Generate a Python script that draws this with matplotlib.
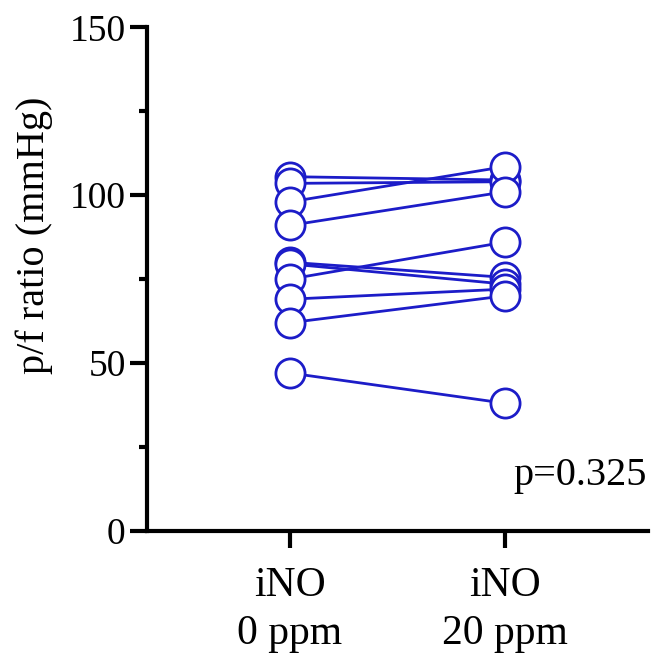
import matplotlib
matplotlib.use("Agg")
import matplotlib.pyplot as plt
from matplotlib.ticker import MultipleLocator

groups = ["iNO\n0 ppm", "iNO\n20 ppm"]
ino_0 = [105.5, 103.5, 98, 91, 80, 79.5, 75, 69, 62, 47]     # p/f ratio at 0 ppm
ino_20 = [104.5, 104, 108.5, 101, 75.5, 73.5, 86, 72, 70, 38]  # p/f ratio at 20 ppm
p_text = "p=0.325"

blue = "#1c1cc8"
plt.rcParams['font.family'] = ['Liberation Serif', 'DejaVu Serif']

fig = plt.figure(figsize=(6.57, 6.66), dpi=100)
ax = fig.add_axes([0.224, 0.203, 0.762, 0.756])

for a, b in zip(ino_0, ino_20):
    ax.plot([0, 1], [a, b], color=blue, lw=2.0, marker="o", markersize=21,
            markerfacecolor="white", markeredgecolor=blue, markeredgewidth=2.0, zorder=3)

ax.set_xlim(-0.665, 1.665)
ax.set_ylim(0, 150)
ax.set_xticks([0, 1])
ax.set_xticklabels(groups, fontsize=30, linespacing=1.3)
ax.yaxis.set_major_locator(MultipleLocator(50))
ax.yaxis.set_minor_locator(MultipleLocator(25))
ax.tick_params(axis="y", which="major", labelsize=27, length=12, width=3)
ax.tick_params(axis="y", which="minor", length=6, width=3)
ax.tick_params(axis="x", which="major", length=12, width=3, pad=14)
ax.set_ylabel("p/f ratio (mmHg)", fontsize=29)
ax.yaxis.set_label_coords(-0.188, 0.587)

for side in ["top", "right"]:
    ax.spines[side].set_visible(False)
for side in ["left", "bottom"]:
    ax.spines[side].set_linewidth(3)

ax.text(1.66, 13.7, p_text, fontsize=29, ha="right", va="baseline")

fig.savefig("out.png", dpi=100)
